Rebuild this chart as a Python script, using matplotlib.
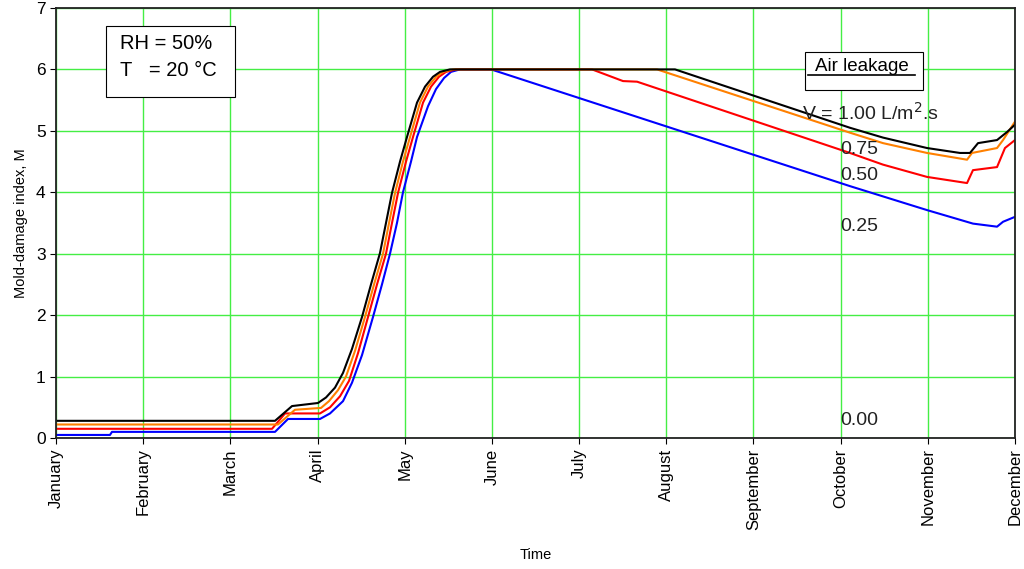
import numpy as np
import matplotlib
matplotlib.use("Agg")
import matplotlib.pyplot as plt
from matplotlib.patches import Rectangle

plt.rcParams['font.family'] = ['Liberation Sans', 'DejaVu Sans']

months = ['January', 'February', 'March', 'April', 'May', 'June', 'July',
          'August', 'September', 'October', 'November', 'December']

# time in months since 1 January, mold index M, one pair per air leakage rate
t_100 = [0, 2.512, 2.707, 3.005, 3.097, 3.200, 3.292, 3.395, 3.510, 3.613, 3.716, 3.785,
         3.854, 3.946, 4.026, 4.141, 4.233, 4.324, 4.405, 4.519,
         7.100, 9.107, 9.486, 9.991, 10.369, 10.484, 10.576, 10.794, 10.908, 11]
m_100 = [0.28, 0.28, 0.52, 0.57, 0.66, 0.82, 1.06, 1.45, 1.97, 2.5, 3.01, 3.5,
         3.99, 4.5, 4.9, 5.46, 5.72, 5.88, 5.96, 6.0,
         6.0, 5.05, 4.89, 4.72, 4.64, 4.64, 4.8, 4.85, 4.98, 5.1]

t_075 = [0, 2.546, 2.741, 3.040, 3.131, 3.235, 3.326, 3.430, 3.544, 3.648, 3.751, 3.820,
         3.889, 3.980, 4.061, 4.175, 4.267, 4.359, 4.439, 4.554,
         6.894, 9.107, 9.486, 9.991, 10.450, 10.507, 10.794, 10.863, 11]
m_075 = [0.22, 0.22, 0.46, 0.49, 0.6, 0.78, 1.0, 1.42, 1.97, 2.5, 3.0, 3.5,
         3.99, 4.5, 4.9, 5.46, 5.72, 5.88, 5.96, 6.0,
         6.0, 4.97, 4.8, 4.64, 4.53, 4.64, 4.72, 4.85, 5.15]

t_050 = [0, 2.478, 2.627, 3.028, 3.143, 3.258, 3.361, 3.464, 3.579, 3.682, 3.785, 3.854,
         3.923, 4.015, 4.095, 4.210, 4.302, 4.393, 4.474, 4.588,
         6.148, 6.504, 6.665, 9.107, 9.486, 9.991, 10.450, 10.518, 10.794, 10.885, 11]
m_050 = [0.15, 0.15, 0.4, 0.4, 0.5, 0.68, 0.93, 1.38, 1.97, 2.5, 3.0, 3.5,
         3.99, 4.5, 4.9, 5.46, 5.72, 5.88, 5.96, 6.0,
         6.0, 5.81, 5.80, 4.64, 4.45, 4.25, 4.15, 4.36, 4.41, 4.72, 4.85]

t_025 = [0, 0.619, 0.642, 2.512, 2.661, 3.028, 3.143, 3.292, 3.395, 3.510, 3.636, 3.739,
         3.831, 3.911, 3.980, 4.072, 4.141, 4.267, 4.359, 4.451, 4.531, 4.634,
         4.990, 9.107, 9.991, 10.518, 10.794, 10.863, 11]
m_025 = [0.05, 0.05, 0.1, 0.1, 0.31, 0.31, 0.4, 0.6, 0.9, 1.35, 1.97, 2.5,
         3.0, 3.5, 4.0, 4.5, 4.9, 5.4, 5.68, 5.86, 5.96, 6.0,
         6.0, 4.1, 3.71, 3.49, 3.44, 3.52, 3.6]

fig = plt.figure(figsize=(10.24, 5.69), dpi=100)
ax = fig.add_axes([0.0547, 0.2302, 0.9365, 0.7558])

ax.plot(t_025, m_025, color='#0000ff', lw=1.5)
ax.plot(t_050, m_050, color='#ff0000', lw=1.5)
ax.plot(t_075, m_075, color='#ff8000', lw=1.5)
ax.plot(t_100, m_100, color='#000000', lw=1.5)

ax.set_xlim(0, 11)
ax.set_ylim(0, 7)
ax.set_xticks(range(12))
ax.set_xticklabels(months, rotation=90, fontsize=12)
ax.set_yticks(range(8))
ax.tick_params(axis='y', labelsize=12.5, length=4)
ax.tick_params(axis='x', length=4)
ax.grid(True, color='#44ee44', lw=1)
for s in ax.spines.values():
    s.set_color('#222222')
    s.set_linewidth(1.3)

ax.set_ylabel('Mold-damage index, M', fontsize=10.5, labelpad=6)
ax.set_xlabel('Time', fontsize=10.5, labelpad=13)

ax.text(8.56, 5.29, 'V = 1.00 L/m$^2$.s', fontsize=14, va='center', color='#222222')
ax.text(8.99, 4.69, '0.75', fontsize=14, va='center', color='#222222')
ax.text(8.99, 4.28, '0.50', fontsize=14, va='center', color='#222222')
ax.text(8.99, 3.45, '0.25', fontsize=14, va='center', color='#222222')
ax.text(8.99, 0.29, '0.00', fontsize=14, va='center', color='#222222')

# conditions box
ax.add_patch(Rectangle((0.052, 0.793), 0.135, 0.165, transform=ax.transAxes,
                       fc='white', ec='black', lw=0.8, zorder=5))
ax.text(0.0667, 0.9047, 'RH = 50%', transform=ax.transAxes, fontsize=14.5,
        va='baseline', ha='left', zorder=6)
ax.text(0.0667, 0.842, 'T   = 20 \u00b0C', transform=ax.transAxes, fontsize=14.5,
        va='baseline', ha='left', zorder=6)

# legend title box
ax.add_patch(Rectangle((0.781, 0.809), 0.123, 0.089, transform=ax.transAxes,
                       fc='white', ec='black', lw=0.8, zorder=5))
ax.text(0.8405, 0.853, 'Air leakage', transform=ax.transAxes, fontsize=13.5,
        va='baseline', ha='center', zorder=6)
ax.plot([0.784, 0.896], [0.8445, 0.8445], transform=ax.transAxes,
        color='black', lw=1.2, zorder=6)

fig.savefig('out.png', dpi=100)
